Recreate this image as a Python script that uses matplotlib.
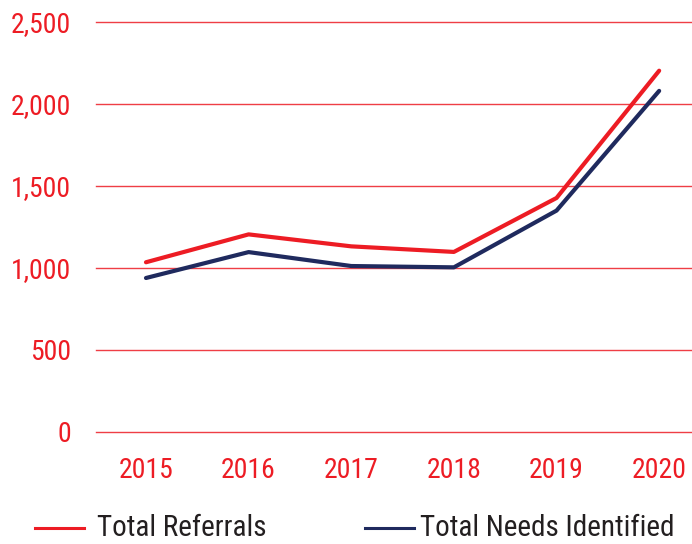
import matplotlib
matplotlib.use("Agg")
import matplotlib.pyplot as plt
from matplotlib import font_manager
from matplotlib.lines import Line2D

years = ["2015", "2016", "2017", "2018", "2019", "2020"]
total_referrals = [1035, 1205, 1132, 1098, 1427, 2203]
total_needs = [939, 1097, 1012, 1004, 1350, 2080]
yticks = [0, 500, 1000, 1500, 2000, 2500]
ytick_labels = ["0", "500", "1,000", "1,500", "2,000", "2,500"]
series_names = ["Total Referrals", "Total Needs Identified"]

RED = "#ED1C24"
NAVY = "#1F2A5E"

avail = {f.name for f in font_manager.fontManager.ttflist}
fam = None
for cand in ["Roboto Condensed", "Liberation Sans Narrow", "Roboto", "DejaVu Sans"]:
    if cand in avail:
        fam = cand
        break
plt.rcParams["font.family"] = [fam, "DejaVu Sans"]

W, H = 692, 544
fig = plt.figure(figsize=(W / 100, H / 100), dpi=100)
left, right, top, bottom = 96, 692, 22, 432
ax = fig.add_axes([left / W, 1 - bottom / H, (right - left) / W, (bottom - top) / H])

x = list(range(len(years)))
for yv in yticks:
    ax.axhline(yv, color=RED, lw=1.0, alpha=0.85, clip_on=False, zorder=1)
ax.plot(x, total_referrals, color=RED, lw=3.0, solid_capstyle="round", clip_on=False, zorder=3)
ax.plot(x, total_needs, color=NAVY, lw=3.0, solid_capstyle="round", clip_on=False, zorder=3)

ax.set_xlim(-0.487, 5.32)
ax.set_ylim(0, 2500)
ax.set_yticks(yticks)
ax.set_yticklabels(ytick_labels)
ax.set_xticks(x)
ax.set_xticklabels(years)
for s in ax.spines.values():
    s.set_visible(False)
ax.tick_params(axis="both", length=0, labelsize=20, colors=RED)
ax.tick_params(axis="y", pad=18)
ax.tick_params(axis="x", pad=18)

# legend drawn manually in figure pixel coordinates
def fx(px):
    return px / W

def fy(py):
    return 1 - py / H

ly = 528
entries = [(series_names[0], RED, 35, 84, 97), (series_names[1], NAVY, 365, 414, 420)]
for name, col, x0, x1, tx in entries:
    fig.add_artist(Line2D([fx(x0), fx(x1)], [fy(ly), fy(ly)], color=col, lw=2.2,
                          transform=fig.transFigure))
    fig.text(fx(tx), fy(ly), name, color="#231F20", fontsize=21, va="center", ha="left")

fig.savefig("out.png", dpi=100)
